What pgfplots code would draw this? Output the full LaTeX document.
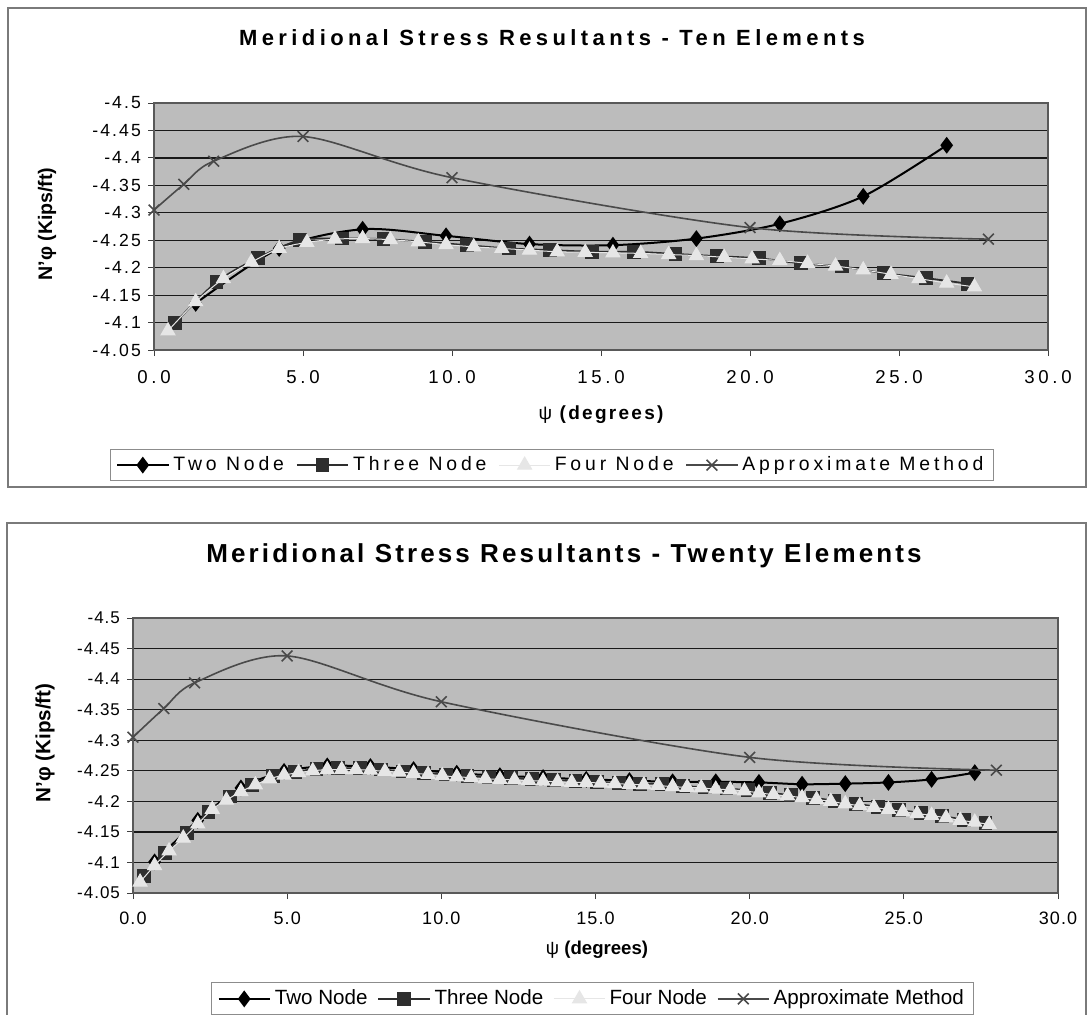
\documentclass[border=0pt]{standalone}
\usepackage{pgfplots}
\pgfplotsset{compat=1.18}
\usepackage{fontspec}
\setmainfont{Liberation Sans}
\newfontfamily\spaced{Liberation Sans}[LetterSpace=20]
\newfontfamily\spacedm{Liberation Sans}[LetterSpace=12]
\newfontfamily\spacedb{Liberation Sans}[LetterSpace=6]
\definecolor{bgc}{HTML}{BCBCBC}
\definecolor{fourc}{HTML}{E6E6E6}
\definecolor{threec}{HTML}{2E2E2E}
\definecolor{apprc}{HTML}{4A4A4A}
\definecolor{framec}{HTML}{7A7A7A}

\pgfplotsset{
  panel/.style={
    scale only axis,
    axis background/.style={fill=bgc},
    y dir=reverse,
    xmin=0, xmax=30, ymin=-4.5, ymax=-4.05,
    xtick={0,5,10,15,20,25,30},
    xticklabels={0.0,5.0,10.0,15.0,20.0,25.0,30.0},
    ytick={-4.5,-4.45,-4.4,-4.35,-4.3,-4.25,-4.2,-4.15,-4.1,-4.05},
    yticklabels={-4.5,-4.45,-4.4,-4.35,-4.3,-4.25,-4.2,-4.15,-4.1,-4.05},
    xtick pos=bottom, ytick pos=left,
    tick align=outside,
    major tick length=3pt,
    every tick/.style={black!75, line width=0.5pt},
    ymajorgrids,
    major grid style={draw=black!90, line width=0.6pt},
    axis line style={draw=black!65, line width=0.7pt},
    clip mode=individual,
    legend columns=4,
    legend style={draw=black!45, fill=white, line width=0.5pt, anchor=center, inner xsep=3pt, inner ysep=1.5pt},
    legend image code/.code={\draw[mark repeat=2,mark phase=2] plot coordinates {(0cm,0cm) (0.45cm,0cm) (0.9cm,0cm)};},
  },
  twon/.style={black, line width=1pt, smooth, mark=diamond*, mark size=3.4pt, mark options={solid, fill=black}},
  threen/.style={threec, line width=0.9pt, smooth, mark=square*, mark size=3pt, mark options={fill=threec}},
  fourn/.style={fourc, line width=0.5pt, smooth, mark=triangle*, mark size=4pt, mark options={fill=fourc, draw=fourc}},
  apprn/.style={apprc, line width=0.8pt, smooth, mark=x, mark size=3.8pt, mark options={line width=0.8pt}},
}

\begin{document}
\begin{tikzpicture}
\path[use as bounding box] (0pt,0pt) rectangle (545.5pt,-507pt);
\draw[framec, line width=0.8pt] (4pt,-4pt) rectangle (543pt,-243.5pt);
\draw[framec, line width=0.8pt] (3.5pt,-509pt) -- (3.5pt,-261.5pt) -- (543pt,-261.5pt) -- (543pt,-509pt);

% ---------------- Top panel: Ten Elements ----------------
\begin{axis}[panel, at={(77pt,-175pt)}, anchor=south west, width=447pt, height=123.5pt,
  yticklabel style={font=\spacedm\fontsize{8.8}{10}\selectfont},
  xticklabel style={font=\spaced\fontsize{9.3}{10}\selectfont, yshift=-3.5pt},
  legend style={at={(axis description cs:0.445,-0.466)}, font=\spaced\fontsize{9.7}{11}\selectfont,
    /tikz/every even column/.append style={column sep=4pt}}]
\addplot[twon] coordinates {(1.4,-4.135) (4.2,-4.235) (7.0,-4.270) (9.8,-4.258) (12.6,-4.243) (15.4,-4.241) (18.2,-4.253) (21.0,-4.280) (23.8,-4.330) (26.6,-4.423)};
\addplot[threen] coordinates {(0.7,-4.099) (2.1,-4.174) (3.5,-4.218) (4.9,-4.250) (6.3,-4.253) (7.7,-4.252) (9.1,-4.247) (10.5,-4.241) (11.9,-4.235) (13.3,-4.232) (14.7,-4.229) (16.1,-4.229) (17.5,-4.225) (18.9,-4.221) (20.3,-4.217) (21.7,-4.208) (23.1,-4.202) (24.5,-4.190) (25.9,-4.181) (27.3,-4.171)};
\addplot[fourn] coordinates {(0.47,-4.085) (1.40,-4.138) (2.33,-4.180) (3.27,-4.210) (4.20,-4.235) (5.13,-4.246) (6.07,-4.252) (7.00,-4.253) (7.93,-4.251) (8.87,-4.247) (9.80,-4.242) (10.73,-4.238) (11.67,-4.235) (12.60,-4.232) (13.53,-4.229) (14.47,-4.228) (15.40,-4.227) (16.33,-4.226) (17.27,-4.224) (18.20,-4.222) (19.13,-4.219) (20.07,-4.216) (21.00,-4.213) (21.93,-4.208) (22.87,-4.203) (23.80,-4.196) (24.73,-4.188) (25.67,-4.180) (26.60,-4.172) (27.53,-4.165)};
\addplot[apprn] coordinates {(0,-4.305) (1,-4.352) (2,-4.394) (5,-4.439) (10,-4.364) (20,-4.273) (28,-4.252)};
\legend{Two Node,Three Node,Four Node,Approximate Method}
\end{axis}
\node[font=\spaced\bfseries\fontsize{11}{13}\selectfont] at (276pt,-19pt) {Meridional Stress Resultants - Ten Elements};
\node[font=\spacedm\bfseries\fontsize{9.5}{11}\selectfont] at (300.5pt,-207.5pt) {{\mdseries ψ} (degrees)};
\node[font=\bfseries\fontsize{9.8}{11}\selectfont, rotate=90] at (23.5pt,-112pt) {N'φ (Kips/ft)};

% ---------------- Bottom panel: Twenty Elements ----------------
\begin{axis}[panel, at={(66.5pt,-446.5pt)}, anchor=south west, width=462.5pt, height=137.5pt,
  yticklabel style={font=\spacedb\fontsize{8.5}{9}\selectfont},
  xticklabel style={font=\spacedb\fontsize{9}{10}\selectfont, yshift=-3pt},
  legend style={at={(axis description cs:0.497,-0.385)}, font=\fontsize{10.3}{11}\selectfont,
    /tikz/every even column/.append style={column sep=3pt}}]
\addplot[twon] coordinates {(0.7,-4.101) (2.1,-4.169) (3.5,-4.222) (4.9,-4.249) (6.3,-4.258) (7.7,-4.257) (9.1,-4.252) (10.5,-4.246) (11.9,-4.242) (13.3,-4.239) (14.7,-4.236) (16.1,-4.234) (17.5,-4.232) (18.9,-4.232) (20.3,-4.231) (21.7,-4.228) (23.1,-4.229) (24.5,-4.231) (25.9,-4.236) (27.3,-4.247)};
\addplot[threen] coordinates {(0.35,-4.078) (1.05,-4.115) (1.75,-4.148) (2.45,-4.183) (3.15,-4.208) (3.85,-4.227) (4.55,-4.241) (5.25,-4.248) (5.95,-4.253) (6.65,-4.254) (7.35,-4.254) (8.05,-4.252) (8.75,-4.249) (9.45,-4.246) (10.15,-4.244) (10.85,-4.241) (11.55,-4.239) (12.25,-4.238) (12.95,-4.236) (13.65,-4.235) (14.35,-4.233) (15.05,-4.232) (15.75,-4.230) (16.45,-4.229) (17.15,-4.228) (17.85,-4.225) (18.55,-4.223) (19.25,-4.221) (19.95,-4.218) (20.65,-4.214) (21.35,-4.210) (22.05,-4.206) (22.75,-4.201) (23.45,-4.196) (24.15,-4.191) (24.85,-4.186) (25.55,-4.181) (26.25,-4.176) (26.95,-4.170) (27.65,-4.165)};
\addplot[fourn] coordinates {(0.23,-4.068) (0.70,-4.095) (1.17,-4.119) (1.63,-4.140) (2.10,-4.163) (2.57,-4.187) (3.03,-4.202) (3.50,-4.216) (3.97,-4.227) (4.43,-4.237) (4.90,-4.243) (5.37,-4.247) (5.83,-4.250) (6.30,-4.252) (6.77,-4.252) (7.23,-4.252) (7.70,-4.251) (8.17,-4.249) (8.63,-4.248) (9.10,-4.246) (9.57,-4.244) (10.03,-4.242) (10.50,-4.240) (10.97,-4.239) (11.43,-4.237) (11.90,-4.236) (12.37,-4.235) (12.83,-4.234) (13.30,-4.233) (13.77,-4.232) (14.23,-4.231) (14.70,-4.231) (15.17,-4.230) (15.63,-4.229) (16.10,-4.228) (16.57,-4.227) (17.03,-4.226) (17.50,-4.224) (17.97,-4.223) (18.43,-4.222) (18.90,-4.220) (19.37,-4.219) (19.83,-4.217) (20.30,-4.214) (20.77,-4.211) (21.23,-4.209) (21.70,-4.206) (22.17,-4.203) (22.63,-4.200) (23.10,-4.196) (23.57,-4.193) (24.03,-4.190) (24.50,-4.187) (24.97,-4.183) (25.43,-4.180) (25.90,-4.177) (26.37,-4.173) (26.83,-4.169) (27.30,-4.166) (27.77,-4.162)};
\addplot[apprn] coordinates {(0,-4.305) (1,-4.352) (2,-4.394) (5,-4.438) (10,-4.363) (20,-4.272) (28,-4.251)};
\legend{Two Node,Three Node,Four Node,Approximate Method}
\end{axis}
\node[font=\spacedm\bfseries\fontsize{13}{15}\selectfont] at (282pt,-278pt) {Meridional Stress Resultants - Twenty Elements};
\node[font=\bfseries\fontsize{9.3}{10}\selectfont] at (298.5pt,-475pt) {{\mdseries ψ} (degrees)};
\node[font=\bfseries\fontsize{10.3}{11}\selectfont, rotate=90] at (22.5pt,-371.5pt) {N'φ (Kips/ft)};
\end{tikzpicture}
\end{document}
